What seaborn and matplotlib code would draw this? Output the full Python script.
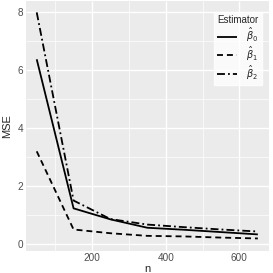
"""MSE of the three estimators against sample size n (ggplot-like styling)."""

import matplotlib

matplotlib.use("Agg")
import matplotlib.pyplot as plt
import numpy as np
import pandas as pd
import seaborn as sns
from matplotlib.ticker import MultipleLocator

# values
n_values = [50, 150, 250, 350, 450, 550, 650]
mse_beta0 = [6.38, 1.23, 0.85, 0.56, 0.49, 0.41, 0.33]
mse_beta1 = [3.20, 0.50, 0.37, 0.28, 0.26, 0.22, 0.19]
mse_beta2 = [8.00, 1.50, 0.86, 0.67, 0.58, 0.50, 0.43]
labels = [r"$\hat{\beta}_0$", r"$\hat{\beta}_1$", r"$\hat{\beta}_2$"]

df = pd.DataFrame(
    {
        "n": n_values * 3,
        "MSE": mse_beta0 + mse_beta1 + mse_beta2,
        "Estimator": np.repeat(labels, len(n_values)),
    }
)

sns.set_style(
    "darkgrid",
    {
        "axes.facecolor": "#EBEBEB",
        "grid.color": "white",
        "axes.edgecolor": "#EBEBEB",
    },
)
plt.rcParams["font.family"] = ["Liberation Sans", "DejaVu Sans"]
plt.rcParams["mathtext.fontset"] = "dejavusans"
plt.rcParams["lines.solid_capstyle"] = "butt"
plt.rcParams["lines.dash_capstyle"] = "butt"

fig = plt.figure(figsize=(2.73, 2.73), dpi=100)
ax = fig.add_axes([0.094, 0.082, 0.891, 0.914])

sns.lineplot(
    data=df,
    x="n",
    y="MSE",
    style="Estimator",
    dashes=["", (3.3, 2.2), (4.4, 1.7, 1.0, 1.7)],
    color="black",
    linewidth=1.3,
    ax=ax,
)

ax.set_xlim(20, 680)
ax.set_ylim(-0.23, 8.39)
ax.xaxis.set_major_locator(MultipleLocator(200))
ax.xaxis.set_minor_locator(MultipleLocator(100))
ax.yaxis.set_major_locator(MultipleLocator(2))
ax.yaxis.set_minor_locator(MultipleLocator(1))
ax.grid(which="major", color="white", linewidth=1.0)
ax.grid(which="minor", color="white", linewidth=0.5)
ax.tick_params(
    which="major", length=1.3, width=0.6, color="#333333",
    labelsize=7.2, labelcolor="#4D4D4D", pad=0.5, direction="out",
)
ax.tick_params(which="minor", length=0)
for side in ax.spines.values():
    side.set_visible(False)
ax.set_xlabel("n", fontsize=8, labelpad=0.3)
ax.set_ylabel("MSE", fontsize=8, labelpad=4)

leg = ax.legend(
    title="Estimator",
    loc="upper right",
    bbox_to_anchor=(0.971, 0.956),
    borderaxespad=0,
    fontsize=7,
    title_fontsize=7,
    frameon=True,
    fancybox=False,
    handlelength=2.05,
    labelspacing=0.05,
    borderpad=0.35,
    handletextpad=0.9,
)
leg.get_frame().set_facecolor("white")
leg.get_frame().set_edgecolor("white")
leg._legend_box.align = "left"

fig.savefig("out.png", dpi=100)
plt.close(fig)
